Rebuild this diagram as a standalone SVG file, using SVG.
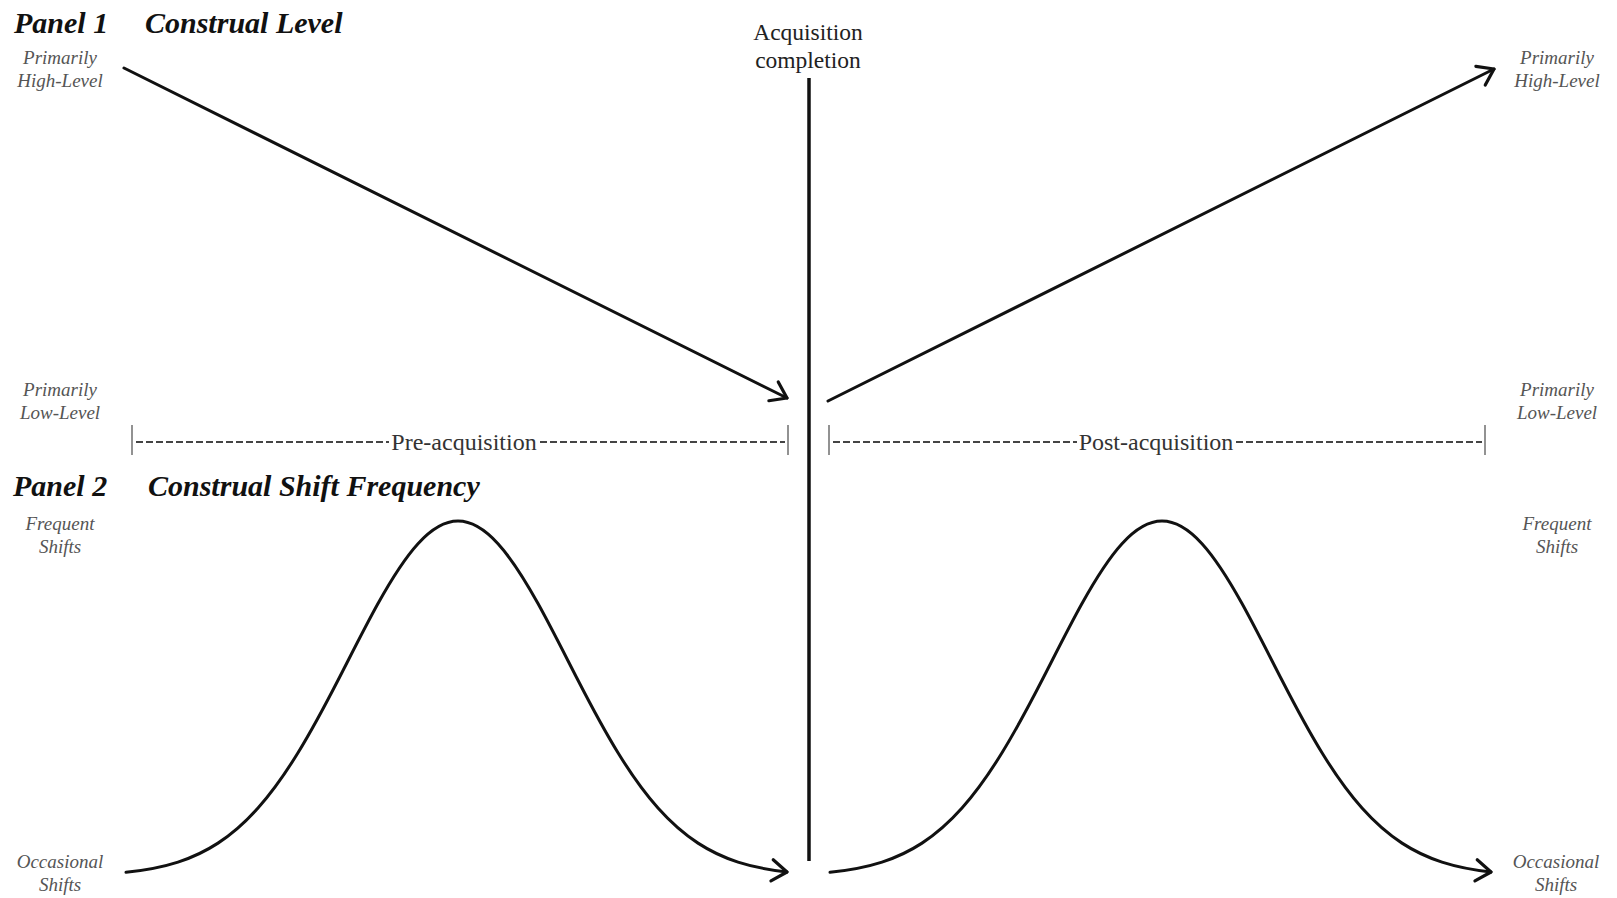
<svg xmlns="http://www.w3.org/2000/svg" width="1617" height="898" viewBox="0 0 1617 898">
<style>
.title{font-family:"Liberation Serif","Times New Roman",serif;font-weight:bold;font-style:italic;font-size:30px;fill:#111}
.lab{font-family:"Liberation Serif","Times New Roman",serif;font-style:italic;font-size:19px;fill:#555;text-anchor:middle}
.mid{font-family:"Liberation Serif","Times New Roman",serif;font-size:23.5px;fill:#222;text-anchor:middle}
.phase{font-family:"Liberation Serif","Times New Roman",serif;font-size:24px;fill:#333;text-anchor:middle}
.arrow{fill:none;stroke:#111;stroke-width:3;stroke-linecap:round;marker-end:url(#head)}
.dash{stroke:#444;stroke-width:2.2;stroke-dasharray:7 3}
.bar{stroke:#777;stroke-width:1.6}
</style>
<defs>
<marker id="head" markerUnits="userSpaceOnUse" markerWidth="40" markerHeight="40" refX="0" refY="0" viewBox="-20 -20 40 40" orient="auto" overflow="visible">
<path d="M-15,-10.5 L0,0 L-15,10.5" fill="none" stroke="#111" stroke-width="3.2" stroke-linecap="round" stroke-linejoin="round"/>
</marker>
<path id="bell" d="M126,870.3 C143.3,868.54 160.67,865.73 178,860.2 C191.33,855.95 204.67,850.03 218,841.4 C231.33,832.77 244.67,821.45 258,806.6 C271.33,791.75 284.67,773.35 298,751.8 C311.33,730.25 324.67,705.57 338,679.9 C351.33,654.23 364.67,627.61 378,603.8 C391.33,579.99 404.67,559.02 418,544.5 C431.33,529.98 444.67,522 458,522 C471.33,522 484.67,529.98 498,544.5 C511.33,559.02 524.67,579.99 538,603.8 C551.33,627.61 564.67,654.23 578,679.9 C591.33,705.57 604.67,730.25 618,751.8 C631.33,773.35 644.67,791.75 658,806.6 C671.33,821.45 684.67,832.77 698,841.4 C711.33,850.03 724.67,855.95 738,860.2 C754.33,865.41 770.67,868.22 787,870"/>
</defs>
<rect width="1617" height="898" fill="#fff"/>

<g id="titles">
<text class="title" x="14" y="33">Panel 1</text>
<text class="title" x="145" y="33">Construal Level</text>
<text class="title" x="13" y="496">Panel 2</text>
<text class="title" x="148" y="496">Construal Shift Frequency</text>
</g>

<g id="acquisition-completion">
<text class="mid" x="808" y="40">Acquisition</text>
<text class="mid" x="808" y="68">completion</text>
<line x1="809" y1="78" x2="809" y2="861" stroke="#111" stroke-width="3.5"/>
</g>

<g id="axis-labels-left">
<text class="lab" x="60" y="64">Primarily</text>
<text class="lab" x="60" y="87">High-Level</text>
<text class="lab" x="60" y="396">Primarily</text>
<text class="lab" x="60" y="419">Low-Level</text>
<text class="lab" x="60" y="530">Frequent</text>
<text class="lab" x="60" y="553">Shifts</text>
<text class="lab" x="60" y="868">Occasional</text>
<text class="lab" x="60" y="891">Shifts</text>
</g>

<g id="axis-labels-right">
<text class="lab" x="1557" y="64">Primarily</text>
<text class="lab" x="1557" y="87">High-Level</text>
<text class="lab" x="1557" y="396">Primarily</text>
<text class="lab" x="1557" y="419">Low-Level</text>
<text class="lab" x="1557" y="530">Frequent</text>
<text class="lab" x="1557" y="553">Shifts</text>
<text class="lab" x="1556" y="868">Occasional</text>
<text class="lab" x="1556" y="891">Shifts</text>
</g>

<g id="pre-acquisition">
<line class="bar" x1="132" y1="425" x2="132" y2="455"/>
<line class="dash" x1="136" y1="442" x2="389" y2="442"/>
<text class="phase" x="464" y="450">Pre-acquisition</text>
<line class="dash" x1="540" y1="442" x2="785" y2="442"/>
<line class="bar" x1="788" y1="425" x2="788" y2="455"/>
</g>

<g id="post-acquisition">
<line class="bar" x1="829" y1="425" x2="829" y2="455"/>
<line class="dash" x1="833" y1="442" x2="1077" y2="442"/>
<text class="phase" x="1156" y="450">Post-acquisition</text>
<line class="dash" x1="1236" y1="442" x2="1482" y2="442"/>
<line class="bar" x1="1485" y1="425" x2="1485" y2="455"/>
</g>

<g id="connectors">
<line class="arrow" x1="124" y1="68" x2="787" y2="398"/>
<line class="arrow" x1="828" y1="401" x2="1494" y2="69"/>
<use id="bell-pre" href="#bell" class="arrow" transform="matrix(1 0 0 1.00852 0 -5.45)"/>
<use id="bell-post" href="#bell" class="arrow" transform="matrix(1 0 0 1.00852 704 -5.45)"/>
</g>
</svg>
